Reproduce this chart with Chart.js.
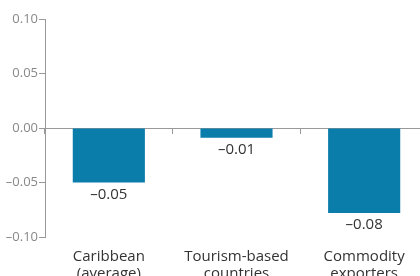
<!DOCTYPE html>
<html>
<head>
<meta charset="utf-8">
<script src="https://cdn.jsdelivr.net/npm/chart.js@4"></script>
<style>
  html, body { margin: 0; padding: 0; background: #fff; }
  #wrap { width: 420px; height: 276px; overflow: hidden; }
</style>
</head>
<body>
<div id="wrap"><canvas id="grafico" width="430" height="290"></canvas></div>
<script>
const categorias = [["Caribbean", "(average)"], ["Tourism-based", "countries"], ["Commodity", "exporters"]];
const valores = [-0.05, -0.009, -0.078];
const rotulos = ["–0.05", "–0.01", "–0.08"];

const corBarra = "#0a7dab";
const corEixo = "#999999";
const fonte = "'Open Sans', sans-serif";

function formatar(v) {
  const s = Math.abs(v).toFixed(2);
  return v < 0 ? "–" + s : s;
}

// rótulos de valor abaixo das barras
const rotuloValores = {
  id: "rotuloValores",
  afterDatasetsDraw(chart) {
    const ctx = chart.ctx;
    const meta = chart.getDatasetMeta(0);
    ctx.save();
    ctx.font = "15px " + fonte;
    ctx.fillStyle = "#333";
    ctx.textAlign = "center";
    ctx.textBaseline = "middle";
    meta.data.forEach((bar, i) => {
      ctx.fillText(rotulos[i], bar.x, bar.y + 12);
    });
    ctx.restore();
  },
};

const ctx = document.getElementById("grafico").getContext("2d");

new Chart(ctx, {
  type: "bar",
  data: {
    labels: categorias,
    datasets: [
      {
        data: valores,
        backgroundColor: corBarra,
        barPercentage: 0.565,
        categoryPercentage: 1,
        xAxisID: "x",
      },
    ],
  },
  options: {
    responsive: false,
    animation: false,
    devicePixelRatio: 1,
    layout: { padding: { top: 19, left: 0, right: 2, bottom: 0 } },
    plugins: {
      legend: { display: false },
      tooltip: { enabled: false },
    },
    scales: {
      x: {
        position: { y: 0 },
        offset: true,
        grid: {
          offset: true,
          drawOnChartArea: false,
          drawTicks: true,
          tickLength: 5,
          color: corEixo,
        },
        border: { color: corEixo, width: 1 },
        ticks: { display: false },
      },
      x2: {
        type: "category",
        position: "bottom",
        labels: categorias,
        offset: true,
        grid: { display: false },
        border: { display: false },
        ticks: {
          padding: 3,
          color: "#333",
          font: { family: fonte, size: 15, lineHeight: 1.13 },
          maxRotation: 0,
        },
        afterFit(scale) {
          scale.height = 53;
        },
      },
      y: {
        min: -0.1,
        max: 0.1,
        grid: {
          drawOnChartArea: false,
          drawTicks: true,
          tickLength: 6,
          color: corEixo,
        },
        border: { color: corEixo, width: 1 },
        ticks: {
          stepSize: 0.05,
          padding: 1,
          color: "#888",
          font: { family: fonte, size: 13 },
          callback: (v) => formatar(v),
        },
        afterFit(scale) {
          scale.width = 45;
        },
      },
    },
  },
  plugins: [rotuloValores],
});
</script>
</body>
</html>
